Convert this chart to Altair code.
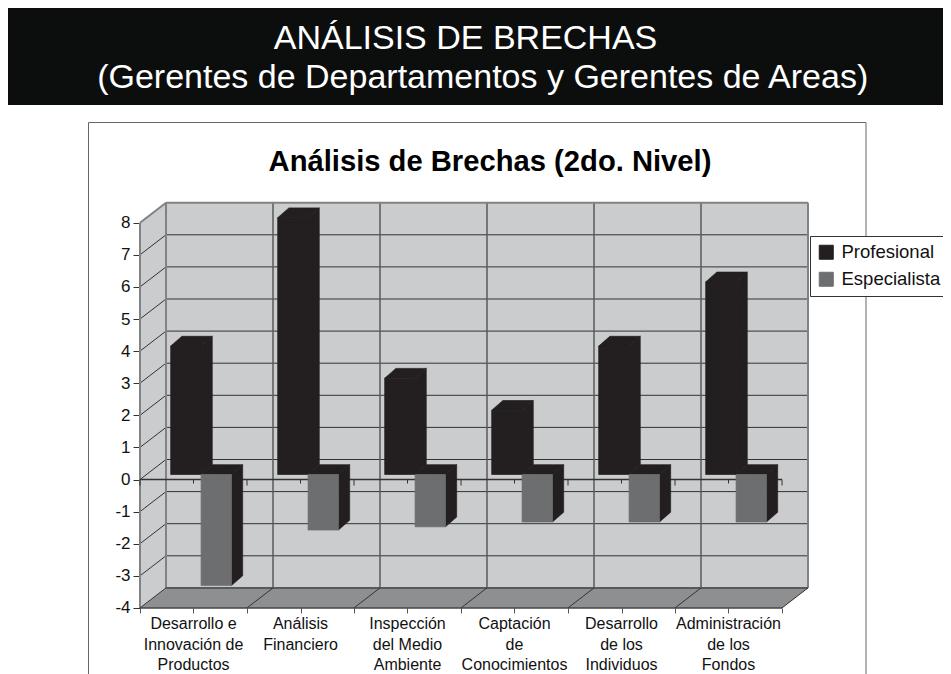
import altair as alt
import pandas as pd

# ---- values
CATEGORIES = ["Desarrollo e\nInnovación de\nProductos", "Análisis\nFinanciero",
              "Inspección\ndel Medio\nAmbiente", "Captación\nde\nConocimientos",
              "Desarrollo\nde los\nIndividuos", "Administración\nde los\nFondos"]
PROFESIONAL = [4, 8, 3, 2, 4, 6]
ESPECIALISTA = [-3.46, -1.73, -1.63, -1.48, -1.48, -1.48]
SERIES = ["Profesional", "Especialista"]
COLORS = ["#231f20", "#6d6e70"]
Y_TICKS = list(range(-4, 9))
BANNER = ["ANÁLISIS DE BRECHAS", "(Gerentes de Departamentos y Gerentes de Areas)"]
TITLE = "Análisis de Brechas (2do. Nivel)"

FONT = "Liberation Sans"
W, H = 935, 666
UNIT_X, UNIT_Y = 107.0, 32.1      # pixels per category / per value
ORIGIN_X, ORIGIN_Y = 132.0, 471.5 # plot pixel of category 0 / value 0
DEPTH_X, DEPTH_Y = 26 / UNIT_X, 20 / UNIT_Y   # back wall shift in data units
BASE_X, BASE_Y = 6.5 / UNIT_X, 5 / UNIT_Y     # bars' front plane
BAR_DX, BAR_DY = 11.2 / UNIT_X, 9.8 / UNIT_Y  # bars' depth
BAR_LEFT, BAR_W = 0.226, 0.284
N = len(CATEGORIES)
VMIN, VMAX = Y_TICKS[0], Y_TICKS[-1]

xs = alt.Scale(domain=[-ORIGIN_X / UNIT_X, (W - ORIGIN_X) / UNIT_X], nice=False, zero=False)
ys = alt.Scale(domain=[(ORIGIN_Y - H) / UNIT_Y, ORIGIN_Y / UNIT_Y], nice=False, zero=False)
x_axis = alt.Axis(values=[i / 2 for i in range(2 * N + 1)], labels=False, title=None,
                  domain=False, grid=False, ticks=True, tickSize=5, tickColor="#555555",
                  tickWidth=1, offset=-(H - (ORIGIN_Y - VMIN * UNIT_Y)))
y_axis = alt.Axis(values=Y_TICKS, title=None, domain=False, grid=False, tickSize=7, tickColor="#333333",
                  tickWidth=1, labelFont=FONT, labelFontSize=17, labelColor="#111111", labelPadding=3,
                  labelExpr="toString(datum.value)", offset=-ORIGIN_X)
X = alt.X("x:Q", scale=xs, axis=x_axis)
Y = alt.Y("y:Q", scale=ys, axis=y_axis, stack=None)


def segs(items):
    rows = []
    for k, (x1, y1, x2, y2) in enumerate(items):
        rows += [{"x": x1, "y": y1, "id": k}, {"x": x2, "y": y2, "id": k}]
    return pd.DataFrame(rows)


def lines(items, color, width):
    return alt.Chart(segs(items)).mark_line(color=color, strokeWidth=width, clip=False).encode(
        x=X, y=Y, detail="id:N")


def faces(items, color, edge=None):
    """items: list of lists of (x, upper, lower)"""
    rows = []
    for k, pts in enumerate(items):
        rows += [{"x": a, "y": b, "y2": c, "id": k} for a, b, c in pts]
    kw = {"stroke": edge, "strokeWidth": 0.7} if edge else {}
    return alt.Chart(pd.DataFrame(rows)).mark_area(color=color, opacity=1, line=False, interpolate="linear", **kw).encode(
        x=X, y=Y, y2=alt.Y2("y2:Q"), detail="id:N")


# frame and banner
frame = alt.Chart(pd.DataFrame({"a": [0]})).mark_rect(filled=False, stroke="#666666", strokeWidth=1).encode(
    x=alt.value(80.5), x2=alt.value(858), y=alt.value(114.5), y2=alt.value(H + 30))
banner = alt.Chart(pd.DataFrame({"a": [0]})).mark_rect(fill="#0c0e0d").encode(
    x=alt.value(0), x2=alt.value(W), y=alt.value(-2), y2=alt.value(97))
banner_t = [
    alt.Chart(pd.DataFrame({"t": [t]})).mark_text(
        font=FONT, fontSize=34, color="white", align="center", baseline="alphabetic").encode(
        x=alt.value(xx), y=alt.value(yy), text="t:N")
    for t, xx, yy in zip(BANNER, [457.5, 474.7], [40.5, 79.5])
]
title_t = alt.Chart(pd.DataFrame({"t": [TITLE]})).mark_text(
    font=FONT, fontSize=29.2, fontWeight="bold", color="black", align="center", baseline="alphabetic").encode(
    x=alt.value(482), y=alt.value(163), text="t:N")

# walls
side_wall = faces([[(0, VMAX, VMIN), (DEPTH_X, VMAX + DEPTH_Y, VMIN + DEPTH_Y)]], "#cbccce")
back_wall = alt.Chart(pd.DataFrame({"x": [DEPTH_X], "x2": [N + DEPTH_X], "y": [VMIN + DEPTH_Y], "y2": [VMAX + DEPTH_Y]})).mark_rect(
    fill="#cbccce").encode(x=X, x2="x2:Q", y=Y, y2="y2:Q")
floor = faces([[(0, VMIN, VMIN), (DEPTH_X, VMIN + DEPTH_Y, VMIN),
                (N, VMIN + DEPTH_Y, VMIN), (N + DEPTH_X, VMIN + DEPTH_Y, VMIN + DEPTH_Y)]], "#8e8f91")

h_back = lines([(DEPTH_X, v + DEPTH_Y, N + DEPTH_X, v + DEPTH_Y) for v in Y_TICKS[1:-1]], "#333333", 1)
h_side = lines([(0, v, DEPTH_X, v + DEPTH_Y) for v in Y_TICKS[1:-1]], "#333333", 1)
v_back = lines([(i + DEPTH_X, VMIN + DEPTH_Y, i + DEPTH_X, VMAX + DEPTH_Y) for i in range(1, N)], "#5a5a5a", 1.5)
edges = lines([(DEPTH_X, VMAX + DEPTH_Y, N + DEPTH_X, VMAX + DEPTH_Y),
               (DEPTH_X, VMIN + DEPTH_Y, DEPTH_X, VMAX + DEPTH_Y),
               (N + DEPTH_X, VMIN + DEPTH_Y, N + DEPTH_X, VMAX + DEPTH_Y),
               (0, VMIN, 0, VMAX),
               (0, VMAX, DEPTH_X, VMAX + DEPTH_Y)], "#808285", 2)
floor_back = lines([(DEPTH_X, VMIN + DEPTH_Y, N + DEPTH_X, VMIN + DEPTH_Y)], "#58595b", 2)
floor_d = lines([(i, VMIN, i + DEPTH_X, VMIN + DEPTH_Y) for i in range(N + 1)], "#333333", 1)
floor_f = lines([(0, VMIN, N, VMIN)], "#444444", 1.5)

# zero plane with its ticks
zero = lines([(0, 0, N, 0)], "#333333", 1.5)
zt = lines([(i / 2, 0, i / 2, -(6 if i % 2 == 0 else 4) / UNIT_Y) for i in range(2 * N + 1)], "#333333", 1)

# bars: top and side faces
depth_p, depth_e, fronts = [], [], []
for i in range(N):
    l1 = i + BASE_X + BAR_LEFT
    r1 = l1 + BAR_W
    l2 = r1
    r2 = l2 + BAR_W
    v1, v2 = PROFESIONAL[i], ESPECIALISTA[i]
    t1 = v1 + BASE_Y
    depth_p.append([(l1, t1, t1), (l1 + BAR_DX, t1 + BAR_DY, t1), (r1, t1 + BAR_DY, t1), (r1 + BAR_DX, t1 + BAR_DY, t1 + BAR_DY)])
    depth_p.append([(r1, t1, BASE_Y), (r1 + BAR_DX, t1 + BAR_DY, BASE_Y + BAR_DY)])
    t2 = BASE_Y
    b2 = v2 + BASE_Y
    depth_e.append([(l2, t2, t2), (l2 + BAR_DX, t2 + BAR_DY, t2), (r2, t2 + BAR_DY, t2), (r2 + BAR_DX, t2 + BAR_DY, t2 + BAR_DY)])
    depth_e.append([(r2, t2, b2), (r2 + BAR_DX, t2 + BAR_DY, b2 + BAR_DY)])
    fronts.append({"x": l1, "x2": r1, "y": BASE_Y, "y2": t1, "series": SERIES[0]})
    fronts.append({"x": l2, "x2": r2, "y": b2, "y2": BASE_Y, "series": SERIES[1]})

bars_depth_p = faces(depth_p, COLORS[0], edge=COLORS[0])
bars_depth_e = faces(depth_e, COLORS[0], edge=COLORS[0])
color_scale = alt.Scale(domain=SERIES, range=COLORS)
bars_front = alt.Chart(pd.DataFrame(fronts)).mark_rect(strokeWidth=0.7).encode(
    x=X, x2="x2:Q", y=Y, y2="y2:Q",
    stroke=alt.Stroke("series:N", scale=color_scale, legend=None),
    color=alt.Color("series:N", scale=color_scale,
                    legend=alt.Legend(orient="none", legendX=802, legendY=228, title=None,
                                      symbolType="square", symbolSize=196, symbolStrokeColor="#444444",
                                      symbolStrokeWidth=1, labelFont=FONT, labelFontSize=18.5,
                                      labelColor="#111111", fillColor="white", strokeColor="#333333",
                                      padding=7, rowPadding=8, labelOffset=6)))

# category labels
cat_df = pd.DataFrame({"x": [i + 0.5 for i in range(N)], "t": CATEGORIES})
cat_t = alt.Chart(cat_df).mark_text(font=FONT, fontSize=16, color="#111111", align="center",
                                    baseline="alphabetic", lineBreak="\n", lineHeight=20.5).encode(
    x=X, y=alt.value(621), text="t:N")

chart = alt.layer(
    banner, *banner_t, frame, title_t,
    side_wall, back_wall, floor,
    h_back, h_side, v_back, edges, floor_back, floor_d, floor_f,
    zero, zt,
    bars_depth_p, bars_depth_e, bars_front,
    cat_t,
).properties(width=W, height=H, padding=0, autosize=alt.AutoSizeParams(type="none"),
             background="white").configure_view(stroke=None)

chart.save("out.html", embed_options={"renderer": "svg", "actions": False})
